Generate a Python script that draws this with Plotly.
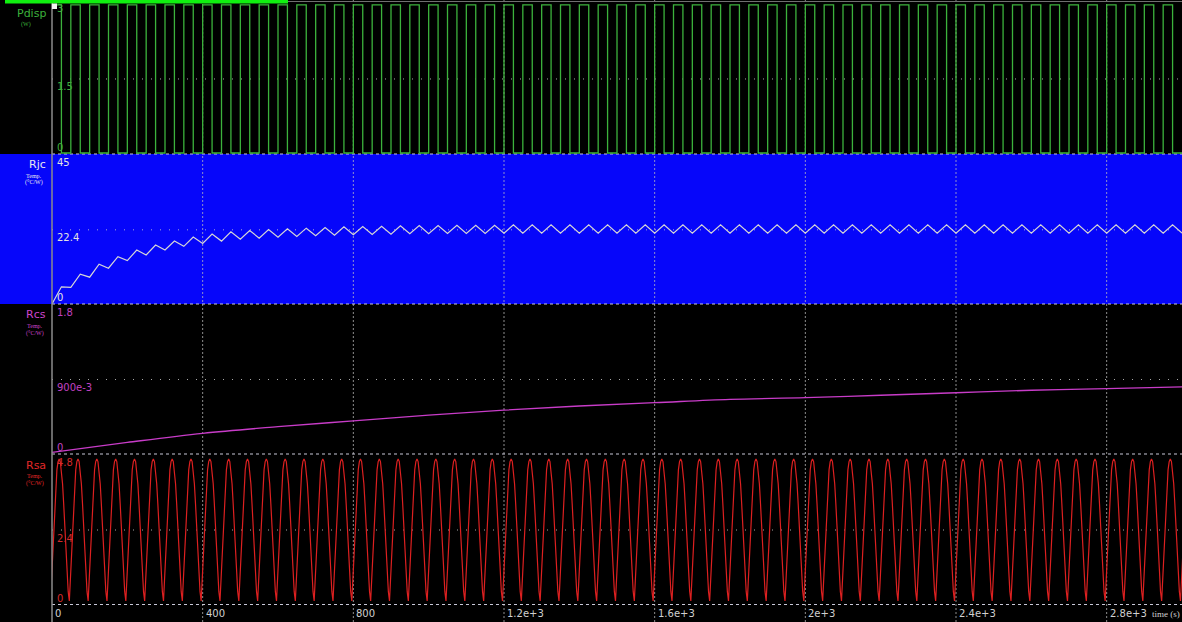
import plotly.graph_objects as go

# ---------------- data ----------------
T_END = 3000.0
x_tick_vals = [0, 400, 800, 1200, 1600, 2000, 2400, 2800]
x_tick_text = ["0", "400", "800", "1.2e+3", "1.6e+3", "2e+3", "2.4e+3", "2.8e+3"]

# Pdisp: rectangular power pulses (W)
pdisp_period = 50.0
pdisp_on_time = 25.0
pdisp_on_level = 3.0
pdisp_off_level = 0.0
pdisp_cycles = 60

# Rjc temperature: value at the start of each cycle and at the end of each on-phase
rjc_cycle_start = [
    0.0, 5.0, 8.1, 10.8, 13.1, 14.8, 16.3, 17.4, 18.3, 19.0,
    19.6, 19.9, 20.2, 20.4, 20.6, 20.8, 20.9, 21.0, 21.1, 21.2,
    21.2, 21.3, 21.3, 21.3, 21.4, 21.4, 21.4, 21.4, 21.4, 21.4,
    21.4, 21.4, 21.4, 21.4, 21.4, 21.4, 21.4, 21.4, 21.4, 21.4,
    21.4, 21.4, 21.4, 21.4, 21.4, 21.4, 21.4, 21.4, 21.4, 21.4,
    21.4, 21.4, 21.4, 21.4, 21.4, 21.4, 21.4, 21.4, 21.4, 21.4,
    21.4,
]
rjc_on_end = [
    5.2, 9.0, 12.0, 14.3, 16.3, 17.8, 19.0, 20.2, 21.1, 21.8,
    22.2, 22.5, 22.7, 22.9, 23.1, 23.3, 23.4, 23.5, 23.6, 23.7,
    23.7, 23.8, 23.8, 23.8, 23.9, 23.9, 23.9, 23.9, 23.9, 23.9,
    23.9, 23.9, 23.9, 23.9, 23.9, 23.9, 23.9, 23.9, 23.9, 23.9,
    23.9, 23.9, 23.9, 23.9, 23.9, 23.9, 23.9, 23.9, 23.9, 23.9,
    23.9, 23.9, 23.9, 23.9, 23.9, 23.9, 23.9, 23.9, 23.9, 23.9,
]

# Rcs temperature samples
rcs_t = [0, 200, 400, 600, 800, 1000, 1200, 1400, 1600, 1800,
         2000, 2200, 2400, 2600, 2800, 3000]
rcs_v = [0.02, 0.14, 0.25, 0.33, 0.40, 0.47, 0.53, 0.58, 0.62, 0.66,
         0.68, 0.71, 0.74, 0.77, 0.79, 0.81]

# Rsa temperature: shape of one oscillation, offsets (s) from its minimum
rsa_offset = [0, 2, 5, 8, 11, 14, 17, 20, 23, 26, 29, 32, 35, 38, 41, 44, 47]
rsa_value = [0.1, 0.6, 1.5, 2.4, 3.2, 3.9, 4.35, 4.62, 4.7, 4.62, 4.35, 3.9,
             3.25, 2.5, 1.7, 1.0, 0.4]
rsa_period = 50.0
rsa_first_min = -4.0

# axis ticks per panel: (bottom, middle, top)
pdisp_ticks = [0, 1.5, 3]
pdisp_tick_text = ["0", "1.5", "3"]
rjc_ticks = [0, 22.4, 45]
rjc_tick_text = ["0", "22.4", "45"]
rcs_ticks = [0, 0.9, 1.8]
rcs_tick_text = ["0", "900e-3", "1.8"]
rsa_ticks = [0, 2.4, 4.8]
rsa_tick_text = ["0", "2.4", "4.8"]

# ---------------- geometry ----------------
W, H = 1182, 622
ML, MB = 52, 17
PW, PH = W - ML, H - MB


def xp(px):
    return (px - ML) / PW


def yp(py):
    return (PH - py) / PH


# panel pixel rows (top, bottom)
panels = {
    "y":  (0, 154),
    "y2": (154, 304),
    "y3": (304, 454),
    "y4": (454, 605),
}
ranges = {
    "y":  [-0.02, 3.10],
    "y2": [0, 45.3],
    "y3": [0, 1.812],
    "y4": [-0.032, 4.865],
}

GREEN = "#3cb23c"
RJC_LINE = "#d6d6d6"
MAGENTA = "#c83cc8"
RED = "#dc2020"
BLUE = "#0606fa"

# ---------------- series ----------------
pd_x, pd_y = [], []
for k in range(pdisp_cycles):
    t0 = k * pdisp_period
    pd_x += [t0, t0 + pdisp_on_time]
    pd_y += [pdisp_on_level, pdisp_off_level]
pd_x.append(T_END)
pd_y.append(pdisp_off_level)

rjc_x, rjc_y = [], []
for k, (lo, hi) in enumerate(zip(rjc_cycle_start, rjc_on_end)):
    t0 = k * pdisp_period
    rjc_x += [t0, t0 + pdisp_on_time]
    rjc_y += [lo, hi]
rjc_x.append(T_END)
rjc_y.append(rjc_cycle_start[-1])

rsa_x, rsa_y = [], []
for k in range(62):
    t0 = rsa_first_min + k * rsa_period
    for off, v in zip(rsa_offset, rsa_value):
        rsa_x.append(t0 + off)
        rsa_y.append(v)

fig = go.Figure()
fig.add_trace(go.Scatter(x=pd_x, y=pd_y, mode="lines", line=dict(color=GREEN, width=1.3, shape="hv"),
                         xaxis="x", yaxis="y", hoverinfo="skip"))
fig.add_trace(go.Scatter(x=rjc_x, y=rjc_y, mode="lines", line=dict(color=RJC_LINE, width=1.2),
                         xaxis="x", yaxis="y2", hoverinfo="skip"))
fig.add_trace(go.Scatter(x=rcs_t, y=rcs_v, mode="lines", line=dict(color=MAGENTA, width=1.3, shape="spline"),
                         xaxis="x", yaxis="y3", hoverinfo="skip"))
fig.add_trace(go.Scatter(x=rsa_x, y=rsa_y, mode="lines", line=dict(color=RED, width=1.2),
                         xaxis="x", yaxis="y4", hoverinfo="skip"))

# ---------------- shapes ----------------
shapes = []
# blue band behind the Rjc panel (runs into the label margin)
shapes.append(dict(type="rect", xref="paper", yref="paper", x0=xp(0), x1=1,
                   y0=yp(304), y1=yp(154), fillcolor=BLUE, line=dict(width=0), layer="below"))
# vertical time grid
for xv in x_tick_vals[1:]:
    shapes.append(dict(type="line", xref="x", yref="paper", x0=xv, x1=xv, y0=yp(H), y1=1,
                       line=dict(color="rgba(190,190,190,0.75)", width=1, dash="2px,2px"), layer="below"))
# mid-level grid lines
mid_lines = [("y", pdisp_ticks[1]), ("y2", rjc_ticks[1]), ("y3", rcs_ticks[1]), ("y4", rsa_ticks[1])]
for ax, v in mid_lines:
    shapes.append(dict(type="line", xref="paper", yref=ax, x0=0, x1=1, y0=v, y1=v,
                       line=dict(color="rgba(210,210,210,0.8)", width=1, dash="1px,8px"), layer="below"))
# panel separators
for py in (154, 304, 454, 604.5):
    shapes.append(dict(type="line", xref="paper", yref="paper", x0=0, x1=1, y0=yp(py), y1=yp(py),
                       line=dict(color="#c8c8d8", width=1, dash="3px,3px"), layer="below"))
# left axis line
shapes.append(dict(type="line", xref="paper", yref="paper", x0=0, x1=0, y0=yp(H), y1=1,
                   line=dict(color="#8c8c8c", width=1.5), layer="above"))
# top scroll bar
shapes.append(dict(type="rect", xref="paper", yref="paper", x0=xp(5), x1=xp(288), y0=yp(3.5), y1=1,
                   fillcolor="#10f010", line=dict(width=0), layer="above"))
shapes.append(dict(type="line", xref="paper", yref="paper", x0=xp(288), x1=1, y0=yp(1.5), y1=yp(1.5),
                   line=dict(color="#707070", width=1), layer="above"))
# cursor marker
shapes.append(dict(type="rect", xref="paper", yref="paper", x0=xp(52), x1=xp(57), y0=yp(9), y1=yp(3.5),
                   fillcolor="#f4f4f4", line=dict(width=0), layer="above"))

# ---------------- annotations ----------------
ann = []
TICK_FONT = "DejaVu Sans"
panel_ticks = [
    ("y", pdisp_ticks, pdisp_tick_text, "#3fae3f"),
    ("y2", rjc_ticks, rjc_tick_text, "#e2e2e2"),
    ("y3", rcs_ticks, rcs_tick_text, "#c040c0"),
    ("y4", rsa_ticks, rsa_tick_text, "#d42a2a"),
]
for ax, vals, texts, col in panel_ticks:
    top, bot = panels[ax]
    # bottom label sits just above the panel floor
    ann.append(dict(x=xp(55), y=yp(bot - 7), xref="paper", yref="paper", text=texts[0],
                    xanchor="left", yanchor="middle", showarrow=False,
                    font=dict(family=TICK_FONT, size=10, color=col)))
    # middle label sits just below its grid line
    ann.append(dict(x=xp(55), y=vals[1], xref="paper", yref=ax, yshift=-8, text=texts[1],
                    xanchor="left", yanchor="middle", showarrow=False,
                    font=dict(family=TICK_FONT, size=10, color=col)))
    # top label sits just below the panel ceiling
    ann.append(dict(x=xp(55), y=yp(top + 8), xref="paper", yref="paper", text=texts[2],
                    xanchor="left", yanchor="middle", showarrow=False,
                    font=dict(family=TICK_FONT, size=10, color=col)))

for xv, tx in zip(x_tick_vals, x_tick_text):
    ann.append(dict(x=xv, y=yp(613), xref="x", yref="paper", text=tx, xshift=1,
                    xanchor="left", yanchor="middle", showarrow=False,
                    font=dict(family=TICK_FONT, size=10, color="#d0d0d0")))
ann.append(dict(x=xp(1150), y=yp(614), xref="paper", yref="paper", text="time (s)",
                xanchor="left", yanchor="middle", showarrow=False,
                font=dict(family="Liberation Serif", size=9, color="#d0d0d0")))

# series names in the left margin
names = [
    ("Pdisp", 13, GREEN, ["(W)"], 26, [25]),
    ("Rjc", 164, "#e6e6f0", ["Temp.", "(°C/W)"], 34, [176, 183]),
    ("Rcs", 314, "#cc44cc", ["Temp.", "(°C/W)"], 35, [326, 333]),
    ("Rsa", 465, "#e02828", ["Temp.", "(°C/W)"], 35, [476, 483]),
]
for name, py, col, subs, sx, sys_ in names:
    ann.append(dict(x=xp(48), y=yp(py), xref="paper", yref="paper", text=name,
                    xanchor="right", yanchor="middle", showarrow=False,
                    font=dict(family="DejaVu Sans", size=11, color=col)))
    for s, spy in zip(subs, sys_):
        ann.append(dict(x=xp(sx), y=yp(spy), xref="paper", yref="paper", text=s,
                        xanchor="center", yanchor="middle", showarrow=False,
                        font=dict(family="Liberation Serif", size=6, color=col)))

# ---------------- layout ----------------
layout = dict(
    width=W, height=H,
    margin=dict(l=ML, r=0, t=0, b=MB, pad=0),
    paper_bgcolor="black",
    plot_bgcolor="rgba(0,0,0,0)",
    showlegend=False,
    xaxis=dict(range=[0, T_END], showgrid=False, zeroline=False, showticklabels=False,
               showline=False, ticks="", anchor="y4", fixedrange=True),
    shapes=shapes,
    annotations=ann,
)
for ax, (top, bot) in panels.items():
    key = "yaxis" if ax == "y" else "yaxis" + ax[1:]
    layout[key] = dict(domain=[yp(bot), yp(top)], range=ranges[ax], showgrid=False,
                       zeroline=False, showticklabels=False, showline=False, ticks="",
                       anchor="x", fixedrange=True)
fig.update_layout(**layout)

fig.write_html("out.html")
